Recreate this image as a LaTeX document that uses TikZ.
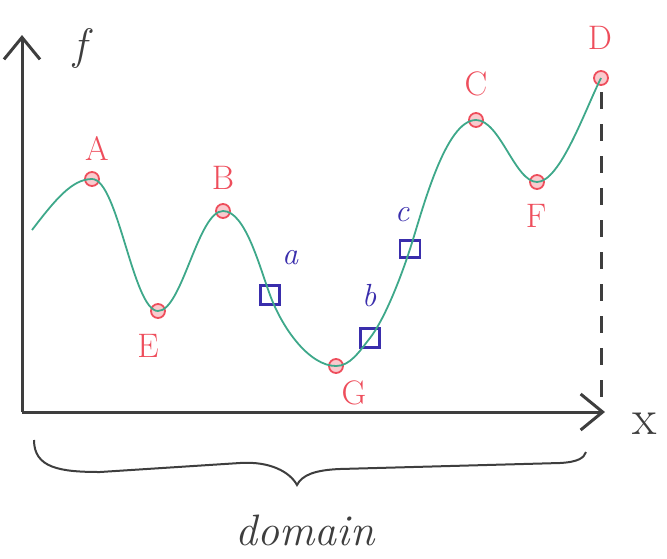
\documentclass[tikz,border=0pt]{standalone}
\usepackage{tikz}
\usetikzlibrary{arrows.meta}
\definecolor{curvegreen}{RGB}{62,168,138}
\definecolor{pointred}{RGB}{238,78,92}
\definecolor{probeblue}{RGB}{58,46,172}
\definecolor{axisgray}{RGB}{62,62,62}

\begin{document}
\begin{tikzpicture}[x=1pt,y=-1pt,
  extremum/.style={circle, draw=pointred, fill=pointred!30, line width=1.8pt, minimum size=14pt, inner sep=0pt},
  probe/.style={rectangle, draw=probeblue, line width=2.2pt, minimum width=19pt, minimum height=19pt, inner sep=0pt},
  redlabel/.style={text=pointred, font=\fontsize{34}{36}\selectfont},
  bluelabel/.style={text=probeblue, font=\fontsize{32}{34}\selectfont\itshape},
  axis/.style={draw=axisgray, line width=3pt, -{Straight Barb[length=22pt,width=36pt]}}]
\useasboundingbox (0,0) rectangle (667,558);

% Axes
\coordinate (origin) at (22,412);
\coordinate (ytip) at (22,35);
\coordinate (xtip) at (605,412);
\draw[axis] (origin) -- (ytip);
\draw[axis] (origin) -- (xtip);
\node[text=axisgray, font=\fontsize{44}{46}\selectfont\itshape] (flabel) at (80,48) {f};
\node[text=axisgray, font=\fontsize{50}{52}\selectfont] (xlabel) at (645,424) {x};

% Points on the curve
\coordinate (start) at (32,230);
\coordinate (pA) at (92,179);
\coordinate (pE) at (158,311);
\coordinate (pB) at (223,211);
\coordinate (pa) at (270,295);
\coordinate (pG) at (336,366);
\coordinate (pb) at (370,338);
\coordinate (pc) at (410,249);
\coordinate (pC) at (476,120);
\coordinate (pF) at (537,182);
\coordinate (pD) at (601,78);

% Dashed line to the x axis
\coordinate (dfoot) at (601,412);
\draw[axisgray, line width=3pt, dash pattern=on 17pt off 15pt] (601,92) -- (dfoot);

% Markers
\node[extremum] (A) at (pA) {};
\node[extremum] (E) at (pE) {};
\node[extremum] (B) at (pB) {};
\node[extremum] (G) at (pG) {};
\node[extremum] (C) at (pC) {};
\node[extremum] (F) at (pF) {};
\node[extremum] (D) at (pD) {};
\node[probe] (a) at (pa) {};
\node[probe] (b) at (pb) {};
\node[probe, minimum width=20pt, minimum height=17pt] (c) at (pc) {};

% Function
\draw[curvegreen, line width=1.8pt] (start)
  .. controls (55,200) and (72,179) .. (pA)
  .. controls (118,179) and (133,311) .. (pE)
  .. controls (182,311) and (198,211) .. (pB)
  .. controls (245,211) and (259,265) .. (pa)
  .. controls (283,330) and (310,366) .. (pG)
  .. controls (350,366) and (359,352) .. (pb)
  .. controls (384,320) and (400,280) .. (pc)
  .. controls (422,212) and (445,120) .. (pC)
  .. controls (500,120) and (515,182) .. (pF)
  .. controls (560,182) and (585,110) .. (pD);

% Labels
\node[redlabel] (labA) at (97,148) {A};
\node[redlabel] (labE) at (148,346) {E};
\node[redlabel] (labB) at (223,178) {B};
\node[redlabel] (labG) at (354,393) {G};
\node[redlabel] (labC) at (476,84) {C};
\node[redlabel] (labF) at (536,216) {F};
\node[redlabel] (labD) at (600,38) {D};
\node[bluelabel] (laba) at (290,258) {a};
\node[bluelabel] (labb) at (369,296) {b};
\node[bluelabel] (labc) at (402,215) {c};

% Brace under the domain
\draw[axisgray, line width=2pt] (34,440)
  .. controls (34,468) and (60,472) .. (100,472) -- (240,463)
  .. controls (270,461) and (290,472) .. (297,485)
  .. controls (302,475) and (315,470) .. (340,469) -- (560,463)
  .. controls (578,462) and (584,458) .. (586,452);
\node[text=axisgray, font=\fontsize{44}{46}\selectfont\itshape] (domain) at (305,530) {domain};
\end{tikzpicture}
\end{document}
